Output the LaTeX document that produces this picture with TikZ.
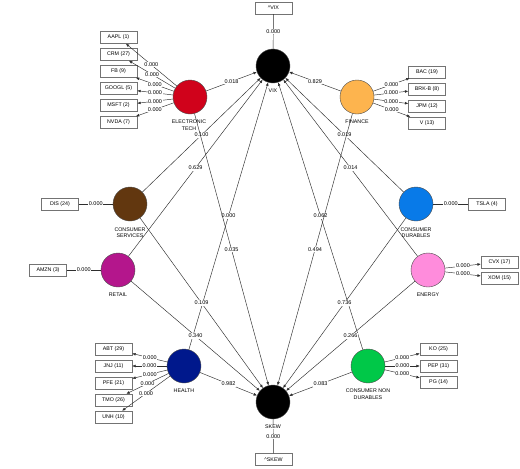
\documentclass[tikz,border=0pt]{standalone}
\usepackage{fontspec}
\setmainfont{Liberation Sans}
\usetikzlibrary{arrows.meta}
\definecolor{red1}{RGB}{208,2,27}
\definecolor{orange1}{RGB}{253,180,78}
\definecolor{brown1}{RGB}{98,55,15}
\definecolor{mag1}{RGB}{180,22,140}
\definecolor{blue1}{RGB}{8,122,232}
\definecolor{pink1}{RGB}{255,140,220}
\definecolor{navy1}{RGB}{0,24,140}
\definecolor{green1}{RGB}{0,200,72}
\begin{document}
\begin{tikzpicture}[x=1pt,y=-1pt,
  lv/.style={circle,draw=black!70,line width=0.4pt,minimum size=34pt,inner sep=0pt},
  ind/.style={draw=black!55,fill=white,minimum width=37pt,minimum height=12pt,inner sep=0pt,font=\fontsize{5.3}{6}\selectfont},
  nm/.style={font=\fontsize{5.3}{6.6}\selectfont,align=center,inner sep=0.5pt},
  coef/.style={font=\fontsize{5.5}{6}\selectfont,fill=white,inner sep=0.6pt},
  pth/.style={draw=black!82,line width=0.45pt,-{Latex[length=3.4pt,width=2.8pt]}},
  lnk/.style={draw=black!82,line width=0.45pt},
]
\useasboundingbox[fill=white] (0,0) rectangle (520,469);

% latent variables
\node[lv,fill=black] (vix) at (273,66) {};
\node[lv,fill=black] (skew) at (273,402) {};
\node[lv,fill=red1] (et) at (190,97) {};
\node[lv,fill=orange1] (fin) at (357,97) {};
\node[lv,fill=brown1] (cs) at (130,204) {};
\node[lv,fill=blue1] (cd) at (416,204) {};
\node[lv,fill=mag1] (ret) at (118,270) {};
\node[lv,fill=pink1] (en) at (428,270) {};
\node[lv,fill=navy1] (hl) at (184,366) {};
\node[lv,fill=green1] (cnd) at (368,366) {};

% indicators
\node[ind] (vixi) at (273.5,8) {\textasciicircum VIX};
\node[ind] (skewi) at (273.5,459.5) {\textasciicircum SKEW};
\node[ind] (aapl) at (118.5,37.5) {AAPL (1)};
\node[ind] (crm) at (118.5,54.5) {CRM (27)};
\node[ind] (fb) at (118.5,71.5) {FB (9)};
\node[ind] (googl) at (118.5,88.5) {GOOGL (5)};
\node[ind] (msft) at (118.5,105.5) {MSFT (2)};
\node[ind] (nvda) at (118.5,122.5) {NVDA (7)};
\node[ind] (bac) at (427,72) {BAC (19)};
\node[ind] (brk) at (427,89) {BRK-B (8)};
\node[ind] (jpm) at (427,106) {JPM (12)};
\node[ind] (v) at (427,123) {V (13)};
\node[ind] (dis) at (60,204) {DIS (24)};
\node[ind] (amzn) at (48,270) {AMZN (3)};
\node[ind] (tsla) at (487,204) {TSLA (4)};
\node[ind] (cvx) at (499.5,262) {CVX (17)};
\node[ind] (xom) at (499.5,278) {XOM (15)};
\node[ind] (abt) at (113.5,349) {ABT (29)};
\node[ind] (jnj) at (113.5,366) {JNJ (11)};
\node[ind] (pfe) at (113.5,383) {PFE (21)};
\node[ind] (tmo) at (113.5,400) {TMO (26)};
\node[ind] (unh) at (113.5,417) {UNH (10)};
\node[ind] (ko) at (438.5,349) {KO (25)};
\node[ind] (pep) at (438.5,366) {PEP (31)};
\node[ind] (pg) at (438.5,382) {PG (14)};

% measurement links
\draw[lnk] (vixi) -- node[coef]{0.000} (vix);
\draw[lnk] (skew) -- node[coef]{0.000} (skewi);
\draw[lnk] (dis) -- node[coef]{0.000} (cs);
\draw[lnk] (amzn) -- node[coef]{0.000} (ret);
\draw[lnk] (tsla) -- node[coef]{0.000} (cd);
\foreach \t in {aapl,crm,fb,googl,msft,nvda}{\draw[pth] (et) -- node[coef]{0.000} (\t);}
\foreach \t in {bac,brk,jpm,v}{\draw[pth] (fin) -- node[coef]{0.000} (\t);}
\foreach \t in {cvx,xom}{\draw[pth] (en) -- node[coef]{0.000} (\t);}
\foreach \t in {abt,jnj,pfe,tmo,unh}{\draw[pth] (hl) -- node[coef]{0.000} (\t);}
\foreach \t in {ko,pep,pg}{\draw[pth] (cnd) -- node[coef]{0.000} (\t);}

% structural paths
\draw[pth] (et) -- node[coef]{0.018} (vix);
\draw[pth] (fin) -- node[coef]{0.829} (vix);
\draw[pth] (cs) -- node[coef]{0.100} (vix);
\draw[pth] (cd) -- node[coef]{0.019} (vix);
\draw[pth] (ret) -- node[coef]{0.629} (vix);
\draw[pth] (en) -- node[coef]{0.014} (vix);
\draw[pth] (hl) -- node[coef]{0.000} (vix);
\draw[pth] (cnd) -- node[coef]{0.062} (vix);
\draw[pth] (et) -- node[coef]{0.035} (skew);
\draw[pth] (fin) -- node[coef]{0.494} (skew);
\draw[pth] (cs) -- node[coef]{0.109} (skew);
\draw[pth] (cd) -- node[coef]{0.736} (skew);
\draw[pth] (ret) -- node[coef]{0.340} (skew);
\draw[pth] (en) -- node[coef]{0.266} (skew);
\draw[pth] (hl) -- node[coef]{0.982} (skew);
\draw[pth] (cnd) -- node[coef]{0.083} (skew);

% names
\node[nm] (vixn) at (273,91) {VIX};
\node[nm,fill=white] (skewn) at (273,427) {SKEW};
\node[nm] (etn) at (189,125) {ELECTRONIC\\TECH};
\node[nm] (finn) at (357,122) {FINANCE};
\node[nm] (csn) at (130,232.7) {CONSUMER\\SERVICES};
\node[nm] (cdn) at (416,232.7) {CONSUMER\\DURABLES};
\node[nm] (retn) at (118,295) {RETAIL};
\node[nm] (enn) at (428,295) {ENERGY};
\node[nm] (hln) at (184,391) {HEALTH};
\node[nm] (cndn) at (368,394) {CONSUMER NON\\DURABLES};
\end{tikzpicture}
\end{document}
